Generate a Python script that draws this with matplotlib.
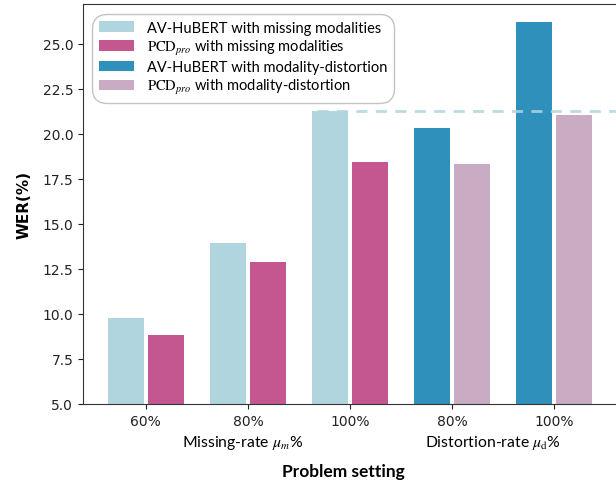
import matplotlib.pyplot as plt
import numpy as np

plt.rcParams["font.family"] = ["DejaVu Sans"]
plt.rcParams["mathtext.fontset"] = "stix"

tick_labels = ["60%", "80%", "100%", "80%", "100%"]
hubert_missing = [9.78, 13.95, 21.25]
pcd_missing = [8.84, 12.90, 18.45]
hubert_distort = [20.35, 26.20]
pcd_distort = [18.35, 21.05]

C_LB = "#b0d5df"
C_PK = "#c4578f"
C_BL = "#2f91bb"
C_LP = "#c9abc3"

TXT = ["Lato", "DejaVu Sans"]


def main() -> None:
    fig = plt.figure(figsize=(6.16, 4.85), dpi=100)
    ax = fig.add_axes([0.1347, 0.165, 0.867, 0.824])

    w = 0.35
    off = 0.195
    xm = np.arange(3)
    xd = np.arange(3, 5)

    ax.bar(xm - off, hubert_missing, w, color=C_LB,
           label="AV-HuBERT with missing modalities")
    ax.bar(xm + off, pcd_missing, w, color=C_PK,
           label=r"$\mathrm{PCD}_{pro}$ with missing modalities")
    ax.bar(xd - off, hubert_distort, w, color=C_BL,
           label="AV-HuBERT with modality-distortion")
    ax.bar(xd + off, pcd_distort, w, color=C_LP,
           label=r"$\mathrm{PCD}_{pro}$ with modality-distortion")

    # reference level: AV-HuBERT at 100% missing
    ax.hlines(hubert_missing[-1], 2 - off - w / 2 + 0.05, 5, colors=C_LB,
              linestyles=(0, (4, 3)), linewidth=2, alpha=0.85, zorder=3)

    ax.set_xlim(-0.615, 4.615)
    ax.set_ylim(5, 27.2)
    ax.set_yticks(np.arange(5, 25.1, 2.5))
    ax.set_xticks(range(5))
    ax.set_xticklabels(tick_labels)
    ax.tick_params(labelsize=10, colors="#222222")
    for s in ax.spines.values():
        s.set_color("#333333")

    ax.set_ylabel("WER(%)", fontsize=11, fontweight="bold", labelpad=8)

    ax.text(0.95, -0.095, r"Missing-rate $\mu_m$%", transform=ax.get_xaxis_transform(),
            ha="center", va="center", fontsize=11.3, family=TXT)
    ax.text(3.4, -0.095, r"Distortion-rate $\mu_\mathrm{d}$%", transform=ax.get_xaxis_transform(),
            ha="center", va="center", fontsize=11.3, family=TXT)
    fig.text(0.557, 0.027, "Problem setting", ha="center", va="center",
             fontsize=12.5, fontweight="bold", family=TXT)

    leg = ax.legend(loc="upper left", bbox_to_anchor=(0.004, 0.994),
                    prop={"family": TXT, "size": 10.5},
                    handlelength=2.4, handleheight=0.75, handletextpad=0.9,
                    labelspacing=0.22, borderpad=0.45, fancybox=True,
                    edgecolor="#c4c4c4", framealpha=1)
    leg.get_frame().set_linewidth(1.0)
    leg.get_frame().set_boxstyle("round", pad=0, rounding_size=1.0)

    fig.savefig("out.png", dpi=100)


if __name__ == "__main__":
    main()
